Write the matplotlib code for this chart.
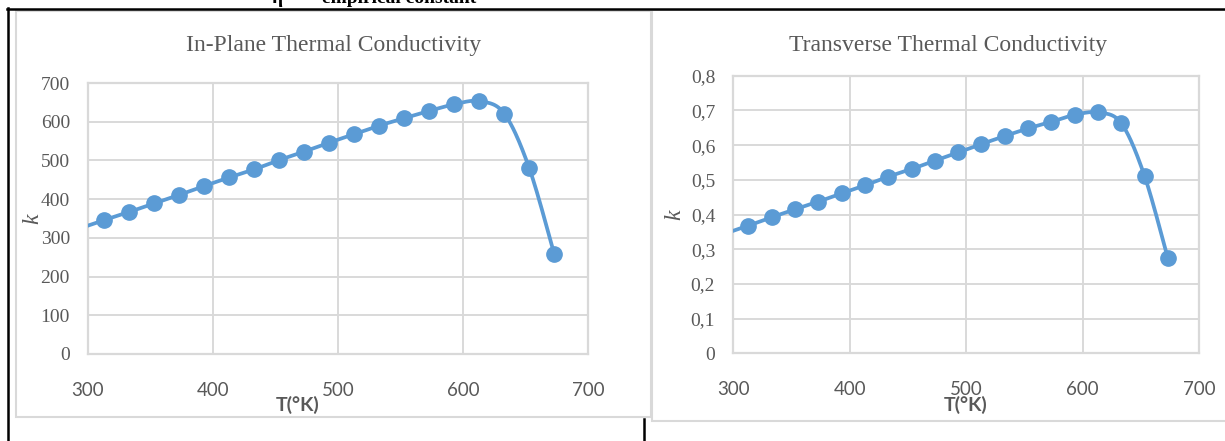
import numpy as np
import matplotlib.pyplot as plt
from matplotlib.ticker import FixedLocator, FixedFormatter

# temperature (K); first point at 293 lies left of the axis and is clipped
T = [293, 313, 333, 353, 373, 393, 413, 433, 453, 473, 493,
     513, 533, 553, 573, 593, 613, 633, 653, 673]
k_inplane = [324, 346, 367, 389, 411, 434, 456, 477, 501, 523, 546,
             568, 590, 609, 628, 645, 653, 621, 480, 258]
k_trans = [0.345, 0.368, 0.392, 0.415, 0.437, 0.461, 0.484, 0.509, 0.531, 0.555, 0.579,
           0.603, 0.626, 0.648, 0.667, 0.687, 0.694, 0.663, 0.511, 0.274]

x_ticks = [300, 400, 500, 600, 700]
y1_ticks = [0, 100, 200, 300, 400, 500, 600, 700]
y2_ticks = [0, 0.1, 0.2, 0.3, 0.4, 0.5, 0.6, 0.7, 0.8]
y2_labels = ['0', '0,1', '0,2', '0,3', '0,4', '0,5', '0,6', '0,7', '0,8']

blue = '#5B9BD5'
grid = '#D9D9D9'
txt = '#595959'
serif = 'Liberation Serif'
sans = 'Lato'
W, H = 1225, 441


def smooth(x, y, n=30):
    # excel style smoothed line (catmull-rom / bezier)
    x = np.asarray(x, float)
    y = np.asarray(y, float)
    px = np.concatenate([[x[0]], x, [x[-1]]])
    py = np.concatenate([[y[0]], y, [y[-1]]])
    xs, ys = [], []
    t = np.linspace(0, 1, n)
    for i in range(1, len(px) - 2):
        p0, p1, p2, p3 = px[i-1], px[i], px[i+1], px[i+2]
        q0, q1, q2, q3 = py[i-1], py[i], py[i+1], py[i+2]
        c1x, c1y = p1 + (p2 - p0) / 6, q1 + (q2 - q0) / 6
        c2x, c2y = p2 - (p3 - p1) / 6, q2 - (q3 - q1) / 6
        b0, b1, b2, b3 = (1-t)**3, 3*(1-t)**2*t, 3*(1-t)*t**2, t**3
        xs.append(b0*p1 + b1*c1x + b2*c2x + b3*p2)
        ys.append(b0*q1 + b1*c1y + b2*c2y + b3*q2)
    return np.concatenate(xs), np.concatenate(ys)


fig = plt.figure(figsize=(W/100, H/100), dpi=100)

# page decoration (table borders, chart frames)
bg = fig.add_axes([0, 0, 1, 1], zorder=-5)
bg.set_xlim(0, W)
bg.set_ylim(H, 0)
bg.axis('off')
bg.plot([7, W], [8.5, 8.5], color='black', lw=1.8)
bg.plot([7.5, 7.5], [8, H], color='black', lw=1.8)
bg.plot([643.5, 643.5], [419, H], color='black', lw=1.8)
bg.add_patch(plt.Rectangle((16, 11), 635, 406, fill=False, ec=grid, lw=1.5))
bg.add_patch(plt.Rectangle((652, 10), 580, 411, fill=False, ec=grid, lw=1.5))
# line of text above the table, cut off by the top edge as in the page
bg.text(272, 3, '\u03b7', fontsize=14, family=serif, fontweight='bold', va='baseline')
bg.text(322, 3, 'empirical constant', fontsize=14, family=serif, fontweight='bold', va='baseline')


def setup(ax, title, title_x, yticks, ylabels, ylim, xlabel_x):
    ax.set_xlim(300, 700)
    ax.set_ylim(*ylim)
    ax.xaxis.set_major_locator(FixedLocator(x_ticks))
    ax.yaxis.set_major_locator(FixedLocator(yticks))
    ax.yaxis.set_major_formatter(FixedFormatter(ylabels))
    ax.grid(True, color=grid, lw=1.4)
    ax.set_axisbelow(True)
    for s in ax.spines.values():
        s.set_color(grid)
        s.set_linewidth(1.6)
    ax.tick_params(length=0)
    ax.tick_params(axis='x', pad=20, labelsize=13.5, labelcolor=txt)
    ax.tick_params(axis='y', pad=13, labelsize=14, labelcolor=txt)
    for lb in ax.get_xticklabels():
        lb.set_family(sans)
    for lb in ax.get_yticklabels():
        lb.set_family(serif)
    fig.text(title_x / W, 1 - 46 / H, title, ha='center', va='center',
             fontsize=17, family=serif, color=txt)
    fig.text(xlabel_x / W, 1 - 405 / H, 'T(°K)', ha='center', va='center',
             fontsize=14, family=sans, fontweight='bold', color=txt)


ax1 = fig.add_axes([88/W, 1 - 354/H, 500/W, 271/H])
setup(ax1, 'In-Plane Thermal Conductivity', 334, y1_ticks, [str(v) for v in y1_ticks], (0, 700), 298)
ax1.set_ylabel('k', fontsize=17, family=serif, style='italic', color=txt, labelpad=-2)
sx, sy = smooth(T, k_inplane)
ax1.plot(sx, sy, color=blue, lw=2.7, clip_on=True, zorder=3)
ax1.plot(T[1:], k_inplane[1:], 'o', color=blue, ms=11, zorder=4, clip_on=False)

ax2 = fig.add_axes([733.3/W, 1 - 353.3/H, 466/W, 277.6/H])
setup(ax2, 'Transverse Thermal Conductivity', 948, y2_ticks, y2_labels, (0, 0.8), 966)
ax2.set_ylabel('k', fontsize=17, family=serif, style='italic', color=txt, labelpad=4)
sx, sy = smooth(T, k_trans)
ax2.plot(sx, sy, color=blue, lw=2.7, clip_on=True, zorder=3)
ax2.plot(T[1:], k_trans[1:], 'o', color=blue, ms=11, zorder=4, clip_on=False)

fig.savefig('out.png', dpi=100, facecolor='white')
